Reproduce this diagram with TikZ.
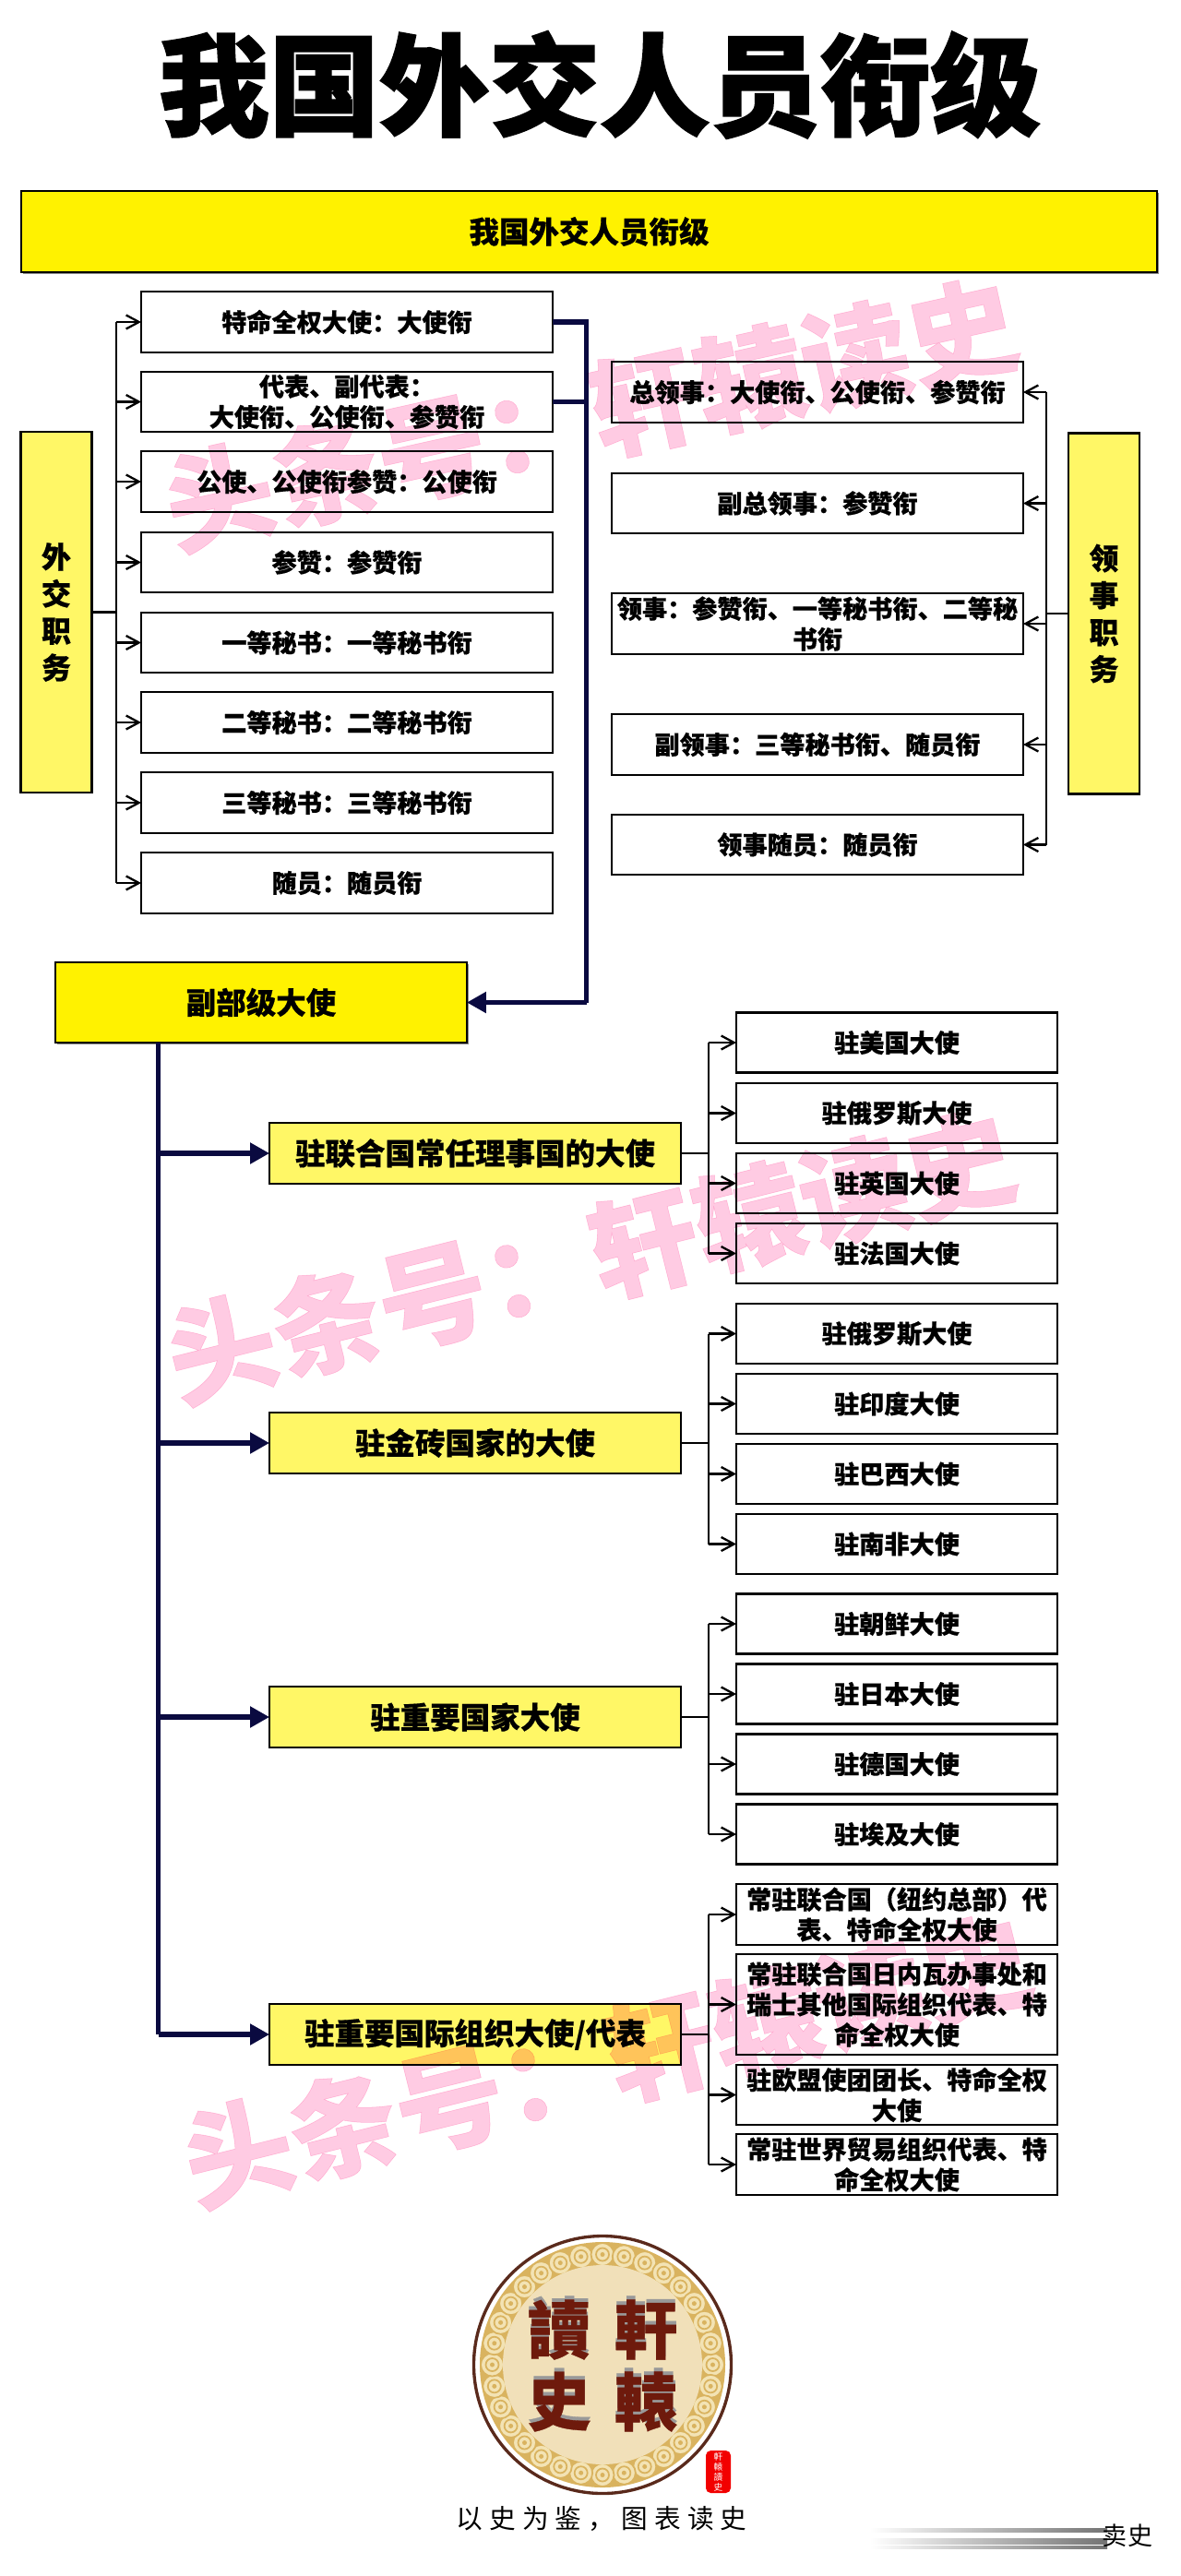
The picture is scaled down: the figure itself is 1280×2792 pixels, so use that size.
\documentclass[tikz,border=0pt]{standalone}
\usepackage{fontspec}
\usetikzlibrary{arrows.meta,shadows,calc}
\setmainfont{Noto Sans CJK SC}[BoldFeatures={FakeBold=0.45}]
\newfontfamily\titlefont{Noto Sans CJK SC}[BoldFeatures={FakeBold=1.6}]
\newfontfamily\slogfont{Noto Sans CJK SC}[LetterSpace=25]
\definecolor{navyline}{HTML}{0A0A40}
\definecolor{wm}{HTML}{FFCBE3}
\definecolor{logobrown}{HTML}{5A2A1C}
\definecolor{logogold}{HTML}{D9B35F}
\definecolor{logocloud}{HTML}{F3E3B4}
\definecolor{logoinner}{HTML}{F1E0B9}
\definecolor{logored}{HTML}{6E1A0C}
\tikzset{
  x=0.02cm,y=-0.02cm,
  base/.style={draw=black,line width=1.4pt,inner sep=0pt,outer sep=0pt,align=center,text=black,font=\bfseries\fontsize{15.45pt}{18.8pt}\selectfont},
  dip/.style={base,fill=white,minimum width=8.92cm,minimum height=1.31cm},
  con/.style={dip},
  amb/.style={base,fill=white,minimum width=6.96cm,minimum height=1.3cm},
  hdr/.style={base,fill=yellow,font=\bfseries\fontsize{18.5pt}{22pt}\selectfont,general shadow={fill=black!45,shadow xshift=1.3pt,shadow yshift=-1.3pt}},
  sub/.style={base,fill=yellow!60!white,draw=black,minimum width=8.92cm,minimum height=1.32cm,font=\bfseries\fontsize{18.5pt}{22pt}\selectfont},
  side/.style={base,fill=yellow!60!white,minimum width=1.54cm,minimum height=7.83cm,font=\bfseries\fontsize{18.2pt}{22.8pt}\selectfont},
  conn/.style={draw=black,line width=1.3pt},
  arr/.style={conn,-{Straight Barb[length=0.28cm,width=0.3cm,line width=1.3pt]}},
  thick line/.style={draw=navyline,line width=2.9pt},
  thick arr/.style={thick line,-{Triangle[length=0.42cm,width=0.44cm]}},
  watermark/.style={text=wm,font=\bfseries\fontsize{67pt}{67pt}\selectfont,inner sep=0pt,rotate=14},
  streak/.style={draw=none,left color=white,right color=black!55},
}
\begin{document}
\begin{tikzpicture}
\useasboundingbox (0,0) rectangle (1280,2792);
\fill[white] (0,0) rectangle (1280,2792);
\node[inner sep=0pt,font=\titlefont\bfseries\fontsize{68pt}{70pt}\selectfont] (title) at (650,92) {我国外交人员衔级};
\node[hdr,minimum width=24.62cm,minimum height=1.76cm] (banner) at (638.5,251) {我国外交人员衔级};

% diplomatic posts
\node[side] (wj) at (61,663.5) {外\\交\\职\\务};
\node[dip] (d1) at (376,349) {特命全权大使：大使衔};
\node[dip] (d2) at (376,435.5) {代表、副代表：\\大使衔、公使衔、参赞衔};
\node[dip] (d3) at (376,522) {公使、公使衔参赞：公使衔};
\node[dip] (d4) at (376,609.5) {参赞：参赞衔};
\node[dip] (d5) at (376,696.5) {一等秘书：一等秘书衔};
\node[dip] (d6) at (376,783) {二等秘书：二等秘书衔};
\node[dip] (d7) at (376,870) {三等秘书：三等秘书衔};
\node[dip] (d8) at (376,957) {随员：随员衔};
\coordinate (wjbus) at (126,663.5);
\draw[conn] (wj.east) -- (wjbus);
\draw[conn] (wjbus |- d1.west) -- (wjbus |- d8.west);
\foreach \n in {d1,d2,d3,d4,d5,d6,d7,d8}{\draw[arr] (wjbus |- \n.west) -- (\n.west);}

% consular posts
\node[side] (ls) at (1196.5,665) {领\\事\\职\\务};
\node[con] (c1) at (886,425) {总领事：大使衔、公使衔、参赞衔};
\node[con] (c2) at (886,545.5) {副总领事：参赞衔};
\node[con] (c3) at (886,676) {领事：参赞衔、一等秘书衔、二等秘\\书衔};
\node[con] (c4) at (886,807) {副领事：三等秘书衔、随员衔};
\node[con] (c5) at (886,915.5) {领事随员：随员衔};
\coordinate (lsbus) at (1134,665);
\draw[conn] (ls.west) -- (lsbus);
\draw[conn] (lsbus |- c1.east) -- (lsbus |- c5.east);
\foreach \n in {c1,c2,c3,c4,c5}{\draw[arr] (lsbus |- \n.east) -- (\n.east);}

% vice-ministerial ambassadors
\node[hdr,minimum width=8.92cm,minimum height=1.74cm] (vm) at (283,1086.5) {副部级大使};
\coordinate (navybus) at (635.5,390);
\draw[thick line,line cap=butt] (d1.east) -- (navybus |- d1.east) -- (navybus |- vm.east);
\draw[thick line] (d2.east) -- (navybus |- d2.east);
\draw[thick arr] (navybus |- vm.east) -- (vm.east);

\node[sub] (s1) at (515,1250) {驻联合国常任理事国的大使};
\node[sub] (s2) at (515,1564) {驻金砖国家的大使};
\node[sub] (s3) at (515,1861) {驻重要国家大使};
\node[sub] (s4) at (515,2205) {驻重要国际组织大使/代表};
\coordinate (vmdrop) at (171.5,1130);
\draw[thick line] (vmdrop) -- (vmdrop |- s4.west);
\foreach \n in {s1,s2,s3,s4}{\draw[thick arr] (vmdrop |- \n.west) -- (\n.west);}

\node[amb] (a1) at (972,1130) {驻美国大使};
\node[amb] (a2) at (972,1206.5) {驻俄罗斯大使};
\node[amb] (a3) at (972,1282.5) {驻英国大使};
\node[amb] (a4) at (972,1358.5) {驻法国大使};
\node[amb] (b1) at (972,1445.5) {驻俄罗斯大使};
\node[amb] (b2) at (972,1521.5) {驻印度大使};
\node[amb] (b3) at (972,1597.5) {驻巴西大使};
\node[amb] (b4) at (972,1673.5) {驻南非大使};
\node[amb] (e1) at (972,1760) {驻朝鲜大使};
\node[amb] (e2) at (972,1836) {驻日本大使};
\node[amb] (e3) at (972,1912) {驻德国大使};
\node[amb] (e4) at (972,1988) {驻埃及大使};
\node[amb,minimum height=1.32cm] (f1) at (972,2075) {常驻联合国（纽约总部）代\\表、特命全权大使};
\node[amb,minimum height=2.18cm] (f2) at (972,2172.5) {常驻联合国日内瓦办事处和\\瑞士其他国际组织代表、特\\命全权大使};
\node[amb] (f3) at (972,2270.5) {驻欧盟使团团长、特命全权\\大使};
\node[amb,minimum height=1.32cm] (f4) at (972,2346) {常驻世界贸易组织代表、特\\命全权大使};
\coordinate (busx) at (768,1000);
\foreach \s/\p/\q/\r/\t in {s1/a1/a2/a3/a4,s2/b1/b2/b3/b4,s3/e1/e2/e3/e4,s4/f1/f2/f3/f4}{
  \draw[conn] (\s.east) -- (busx |- \s.east);
  \draw[conn] (busx |- \p.west) -- (busx |- \t.west);
  \foreach \n in {\p,\q,\r,\t}{\draw[arr] (busx |- \n.west) -- (\n.west);}
}

% watermarks
\begin{scope}[blend mode=multiply]
\node[watermark,rotate=-1.5] (wm1) at (640,449) {头条号：轩辕读史};
\node[watermark] (wm2) at (640,1362) {头条号：轩辕读史};
\node[watermark] (wm3) at (658,2233) {头条号：轩辕读史};
\end{scope}

% logo
\begin{scope}[shift={(653,2563)}]
\fill[white] (0,0) circle[radius=141];
\draw[logobrown,line width=1.9pt] (0,0) circle[radius=139.5];
\fill[logogold] (0,0) circle[radius=133];
\foreach \a in {0,11.25,...,349}{
  \draw[draw=logogold,fill=logocloud,line width=1pt] (\a:119.5) circle[radius=12.5];
  \draw[draw=logogold,line width=1pt] (\a:119.5) circle[radius=7];
  \fill[logogold] (\a:119.5) circle[radius=2.5];
}
\fill[logoinner] (0,0) circle[radius=108];
\end{scope}
\foreach \nm/\ch/\px/\py in {lg1/讀/606/2525,lg2/軒/700/2525,lg3/史/606/2603,lg4/轅/700/2603}{
  \node[text=black!40,font=\bfseries\fontsize{39pt}{39pt}\selectfont,inner sep=0pt] at (\px,\py-4) {\ch};
  \node[text=logored,font=\bfseries\fontsize{39pt}{39pt}\selectfont,inner sep=0pt] (\nm) at (\px,\py) {\ch};
}
\node[fill=red!95!black,rounded corners=3pt,minimum width=0.54cm,minimum height=0.92cm,inner sep=0pt,align=center,text=white,font=\fontsize{5.5pt}{6.2pt}\selectfont] (seal) at (778.5,2679) {軒\\轅\\讀\\史};
\node[inner sep=0pt,font=\slogfont\fontsize{16.3pt}{18pt}\selectfont] (slogan) at (652,2730) {以史为鉴，图表读史};

% corner mark
\fill[streak] (943,2740) rectangle (1200,2744);
\fill[streak] (943,2751) rectangle (1200,2757);
\fill[streak] (943,2759) rectangle (1200,2762);
\node[inner sep=0pt,font=\fontsize{15.4pt}{18pt}\selectfont] (corner) at (1222,2748) {卖史};
\end{tikzpicture}
\end{document}
